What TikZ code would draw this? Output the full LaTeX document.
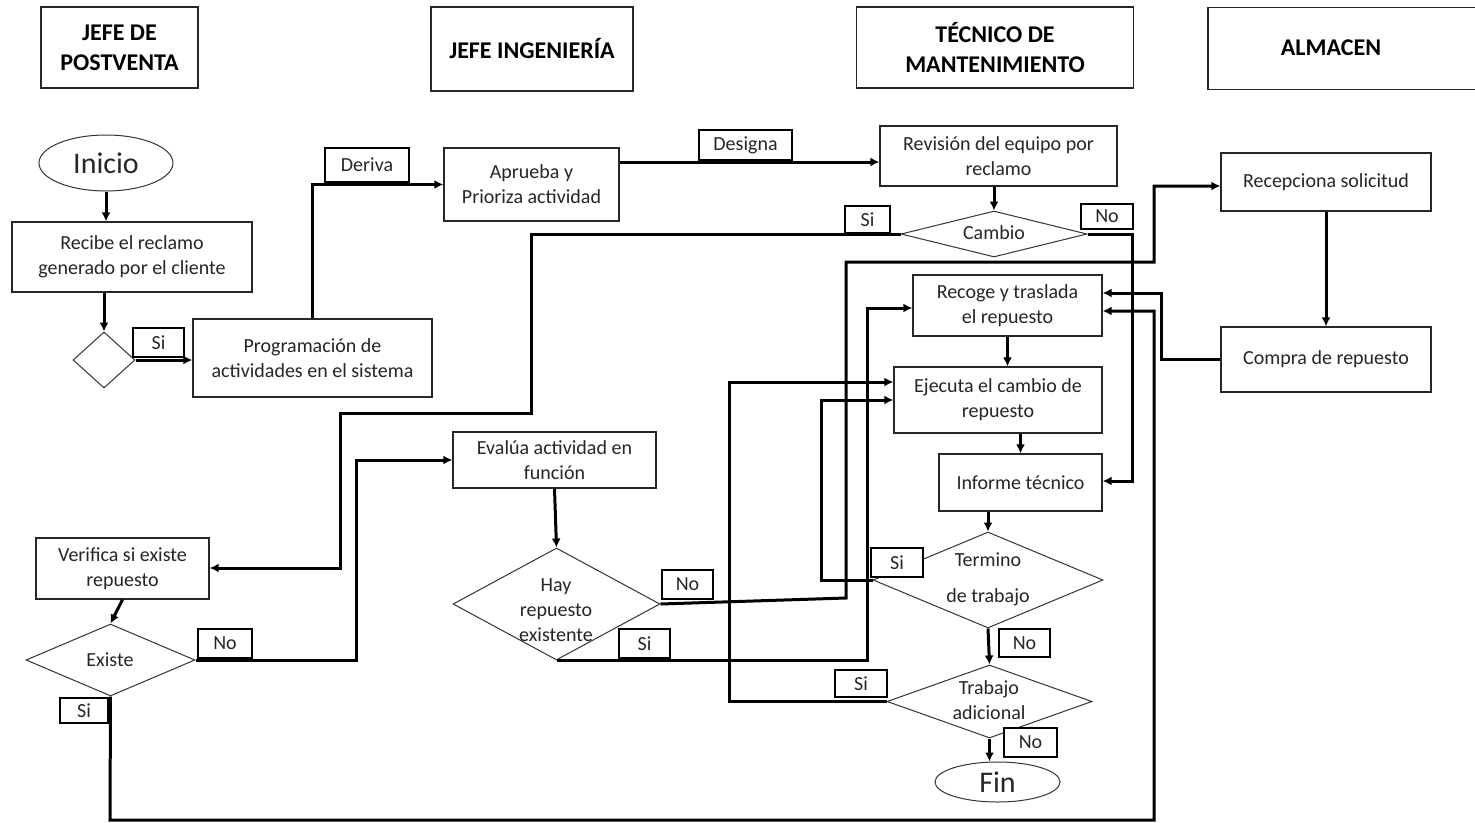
\documentclass[tikz,border=0pt]{standalone}
\usepackage{fontspec}
\setmainfont{Carlito}
\usetikzlibrary{shapes.geometric,arrows.meta}
\begin{document}
\begin{tikzpicture}[x=1pt,y=-1pt,
  every node/.style={font=\fontsize{20}{25}\selectfont, text=black!85, align=center, inner sep=0pt},
  hdr/.style 2 args={draw=black!85, line width=1.3pt, minimum width=#1, minimum height=#2,
    font=\fontsize{24}{30}\selectfont\bfseries, text=black},
  box/.style 2 args={draw=black!85, line width=1.3pt, fill=white, minimum width=#1, minimum height=#2},
  dia/.style 2 args={diamond, draw=black!80, line width=1pt, fill=white, minimum width=#1, minimum height=#2},
  oval/.style 2 args={ellipse, draw=black!80, line width=1pt, fill=white, minimum width=#1, minimum height=#2,
    font=\fontsize{30}{34}\selectfont},
  lbl/.style 2 args={draw=black, line width=1.2pt, fill=white, minimum width=#1, minimum height=#2},
  arr/.style={draw=black, line width=3pt, -{Latex[length=9pt,width=9pt]}},
]
\useasboundingbox (0,0) rectangle (1475,822);

% lane headers
\node[hdr={157}{81}] (h1) at (119.5,47.5) {JEFE DE\\POSTVENTA};
\node[hdr={202}{84}] (h2) at (532,49) {JEFE INGENIERÍA};
\node[hdr={277}{81}] (h3) at (995,47.5) {TÉCNICO DE\\MANTENIMIENTO};
\node[hdr={272}{82}] (h4) at (1344,48.5) {};
\node[font=\fontsize{24}{30}\selectfont\bfseries, text=black] (h4t) at (1331,48) {ALMACEN};

% process steps
\node[oval={134}{56}] (inicio) at (106,163) {Inicio};
\node[box={240}{70}] (recibe) at (132,257) {Recibe el reclamo\\generado por el cliente};
\node[dia={62}{56}] (d0) at (104,360) {};
\node[box={239}{78}] (prog) at (312.5,358) {Programación de\\actividades en el sistema};
\node[box={175}{73}] (aprueba) at (531.5,184.5) {Aprueba y\\Prioriza actividad};
\node[box={237}{60}] (revision) at (998.5,156) {Revisión del equipo por\\reclamo};
\node[dia={186}{46}] (cambio) at (994,234) {};
\node (cambio-t) at (994,233) {Cambio};
\node[box={210}{58}] (recepciona) at (1326,182) {Recepciona solicitud};
\node[box={210}{65}] (compra) at (1326,359.5) {Compra de repuesto};
\node[box={189}{61}] (recoge) at (1007.5,305.5) {Recoge y traslada\\el repuesto};
\node[box={208}{66}] (ejecuta) at (998,400) {Ejecuta el cambio de\\repuesto};
\node[box={163}{57}] (informe) at (1020.5,482.5) {Informe técnico};
\node[box={203}{56}] (evalua) at (554.5,460) {Evalúa actividad en\\función};
\node[box={173}{61}] (verifica) at (122.5,568.5) {Verifica si existe\\repuesto};
\node[dia={169}{72}] (existe) at (110.5,660) {};
\node (existe-t) at (110,660) {Existe};
\node[dia={207}{112}] (hay) at (556.5,604) {};
\node (hay-t) at (556,610) {Hay\\repuesto\\existente};
\node[dia={230}{96}] (termino) at (988,580) {};
\node (termino-t) at (988,579) {Termino\\[11pt]de trabajo};
\node[dia={205}{73}] (trabajo) at (989.5,701.5) {};
\node (trabajo-t) at (989,700.5) {Trabajo\\adicional};
\node[oval={125}{40}] (fin) at (997.5,782) {Fin};

% routing points
\coordinate (c162) at (0,162);
\coordinate (p1) at (531,413);
\coordinate (p2) at (340,568);
\coordinate (p3) at (356,460);
\coordinate (p4) at (110,820);
\coordinate (p5) at (1154,820);
\coordinate (q1) at (1154,311);
\coordinate (r1) at (846,598);
\coordinate (r2) at (1154,262);
\coordinate (r3) at (0,186);
\coordinate (s1) at (867,308);
\coordinate (t1) at (821,400);
\coordinate (u1) at (729,382);
\coordinate (v1) at (1132,481);
\coordinate (w3) at (1161,293);

% connectors
\draw[arr] (inicio.south) -- (inicio.south |- recibe.north);
\draw[arr] (d0.north |- recibe.south) -- (d0.north);
\draw[arr] (d0.east) -- (d0.east -| prog.west);
\draw[arr] (prog.north) |- (aprueba.west);
\draw[arr] (aprueba.east |- c162) -- (revision.west |- c162);
\draw[arr] (cambio.north |- revision.south) -- (cambio.north);
\draw[arr] (cambio.west) -| (p1) -| (p2) -- (p2 -| verifica.east);
\draw[arr] (verifica.south) -- (existe.north);
\draw[arr] (existe.east) -| (p3) -- (evalua.west);
\draw[arr] (existe.south) -- (p4) -- (p5) -- (q1) -- (q1 -| recoge.east);
\draw[arr] (evalua.south) -- (hay.north);
\draw[arr] (hay.east) -- (r1) |- (r2) |- (recepciona.west |- r3);
\draw[arr] (hay.south) -| (s1) -- (s1 -| recoge.west);
\draw[arr] (recoge.south) -- (recoge.south |- ejecuta.north);
\draw[arr] (informe.north |- ejecuta.south) -- (informe.north);
\draw[arr] (termino.north |- informe.south) -- (termino.north);
\draw[arr] (termino.west) -| (t1) -- (t1 -| ejecuta.west);
\draw[arr] (termino.south) -- (trabajo.north);
\draw[arr] (trabajo.west) -| (u1) -- (u1 -| ejecuta.west);
\draw[arr] (trabajo.south) -- (trabajo.south |- fin.north);
\draw[arr] (cambio.east) -| (v1) -- (v1 -| informe.east);
\draw[arr] (recepciona.south) -- (compra.north);
\draw[arr] (compra.west) -| (w3) -- (w3 -| recoge.east);

% branch labels
\node[lbl={51}{29}] (l-si0) at (158.5,342.5) {Si};
\node[lbl={84}{34}] (l-deriva) at (367,165) {Deriva};
\node[lbl={93}{30}] (l-designa) at (745.5,145) {Designa};
\node[lbl={45}{27}] (l-si-cambio) at (867.5,219.5) {Si};
\node[lbl={52}{25}] (l-no-cambio) at (1107,216.5) {No};
\node[lbl={54}{29}] (l-no-existe) at (225,643.5) {No};
\node[lbl={48}{25}] (l-si-existe) at (84,710.5) {Si};
\node[lbl={51}{29}] (l-no-hay) at (687.5,584.5) {No};
\node[lbl={51}{29}] (l-si-hay) at (644.5,643.5) {Si};
\node[lbl={52}{29}] (l-si-term) at (897,562.5) {Si};
\node[lbl={51}{28}] (l-no-term) at (1024.5,643) {No};
\node[lbl={52}{27}] (l-si-trab) at (861,683.5) {Si};
\node[lbl={53}{29}] (l-no-trab) at (1030.5,742.5) {No};
\end{tikzpicture}
\end{document}
